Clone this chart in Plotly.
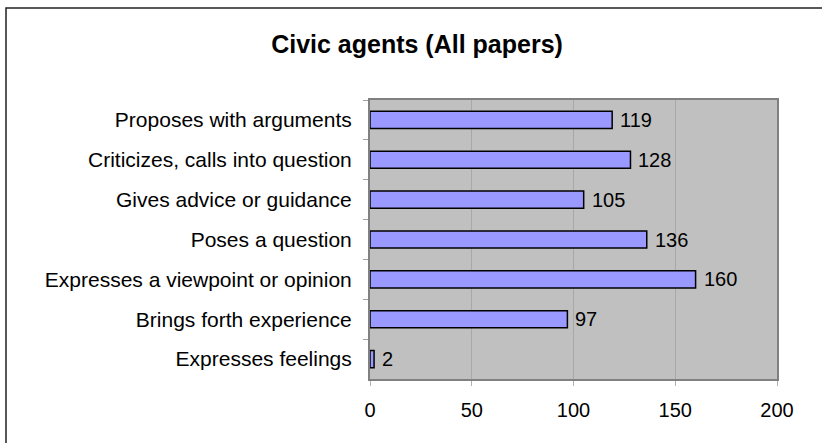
import plotly.graph_objects as go

# Response categories, listed top to bottom
categories = [
    "Proposes with arguments",
    "Criticizes, calls into question",
    "Gives advice or guidance",
    "Poses a question",
    "Expresses a viewpoint or opinion",
    "Brings forth experience",
    "Expresses feelings",
]
counts = [119, 128, 105, 136, 160, 97, 2]
x_ticks = [0, 50, 100, 150, 200]

W, H = 822, 443
L, R, T, B = 370, 45, 100, 64
pw, ph = W - L - R, H - T - B

FONT = "Liberation Sans, Arial, sans-serif"

fig = go.Figure(
    go.Bar(
        x=counts,
        y=categories,
        orientation="h",
        marker=dict(color="#9999FF", line=dict(color="black", width=1.5)),
        hoverinfo="x+y",
    )
)

# value labels placed just right of each bar
for cat, val in zip(categories, counts):
    fig.add_annotation(
        x=val, y=cat, xref="x", yref="y",
        text=str(val), showarrow=False,
        xanchor="left", yanchor="middle", xshift=6,
        font=dict(family=FONT, size=20, color="black"),
    )

# outer chart frame (extends past the right and bottom edges)
def px_x(p):
    return (p - L) / pw

def px_y(p):
    return (H - B - p) / ph

fig.add_shape(
    type="rect", xref="paper", yref="paper",
    x0=px_x(6), x1=px_x(830), y0=px_y(450), y1=px_y(8),
    line=dict(color="#222222", width=1.5), fillcolor="rgba(0,0,0,0)",
    layer="below",
)

fig.update_layout(
    width=W, height=H,
    margin=dict(l=L, r=R, t=T, b=B, pad=0),
    paper_bgcolor="white",
    plot_bgcolor="#C0C0C0",
    bargap=0.57,
    showlegend=False,
    title=dict(
        text="<b>Civic agents (All papers)</b>",
        x=417 / W, xanchor="center",
        y=1 - 44 / H, yanchor="middle", yref="container",
        font=dict(family=FONT, size=25, color="black"),
    ),
    xaxis=dict(
        range=[0, 200],
        tickvals=x_ticks,
        ticktext=[str(v) for v in x_ticks],
        showgrid=True, gridcolor="#A8A8A8", gridwidth=1,
        zeroline=False,
        showline=True, linecolor="#808080", linewidth=2, mirror=True,
        ticks="outside", ticklen=5, tickcolor="#B0B0B0",
        ticklabelstandoff=7,
        tickfont=dict(family=FONT, size=20, color="black"),
        fixedrange=True,
    ),
    yaxis=dict(
        categoryorder="array", categoryarray=categories,
        autorange="reversed",
        showgrid=False, zeroline=False,
        showline=True, linecolor="#808080", linewidth=2, mirror=True,
        ticks="outside", ticklen=5, tickcolor="#A0A0A0",
        tickson="boundaries",
        ticklabelstandoff=12,
        tickfont=dict(family=FONT, size=21, color="black"),
        fixedrange=True,
    ),
)

fig.write_html("out.html")
